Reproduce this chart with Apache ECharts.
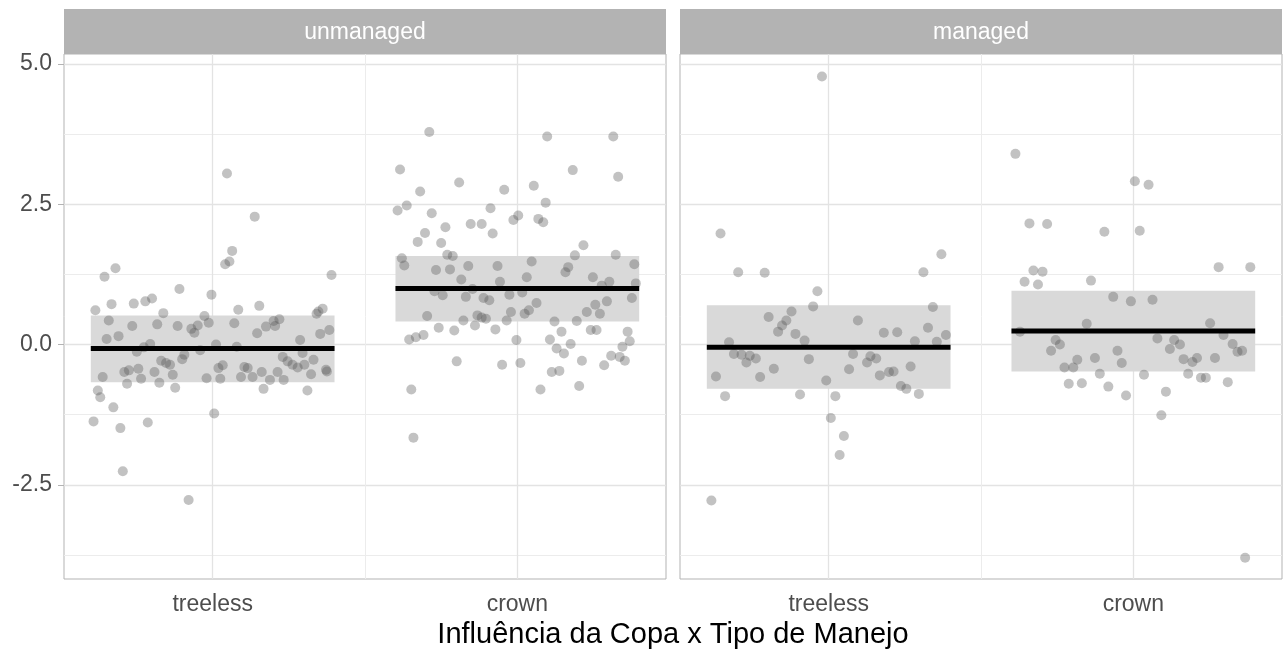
<!DOCTYPE html>
<html>
<head>
<meta charset="utf-8">
<title>Influência da Copa x Tipo de Manejo</title>
<script src="https://cdn.jsdelivr.net/npm/echarts@6/dist/echarts.min.js"></script>
<style>
  html, body { margin: 0; padding: 0; background: #ffffff; }
  #chart { width: 1288px; height: 652px; }
</style>
</head>
<body>
<div id="chart"></div>
<script>
// ---- data -------------------------------------------------------------
const CATEGORIES = ['treeless', 'crown'];          // x positions 1 and 2
const PANELS = ['unmanaged', 'managed'];
const Y_TICKS = [-2.5, 0, 2.5, 5.0];
const Y_MINOR = [-3.75, -1.25, 1.25, 3.75];
const X_AXIS_TITLE = 'Influência da Copa x Tipo de Manejo';

// observations: [horizontal jitter, value]
const unmanagedTreeless = [
  [0.047, 3.05], [0.138, 2.28], [0.064, 1.67], [0.055, 1.48], [0.041, 1.43], [-0.319, 1.36],
  [-0.355, 1.21], [0.390, 1.24], [-0.109, 0.99], [-0.004, 0.89], [-0.199, 0.82], [-0.221, 0.77],
  [-0.259, 0.73], [-0.332, 0.72], [0.153, 0.69], [0.084, 0.62], [-0.385, 0.61], [0.361, 0.64],
  [0.347, 0.59], [0.341, 0.55], [-0.162, 0.56], [-0.027, 0.51], [-0.341, 0.43], [-0.182, 0.36],
  [-0.264, 0.33], [-0.115, 0.33], [-0.070, 0.28], [-0.049, 0.34], [-0.013, 0.39], [-0.060, 0.21],
  [0.071, 0.38], [0.146, 0.20], [0.175, 0.32], [0.200, 0.42], [0.219, 0.45], [0.205, 0.33],
  [-0.348, 0.10], [-0.309, 0.15], [0.353, 0.19], [0.383, 0.26], [0.287, 0.08], [-0.205, 0.01],
  [-0.226, -0.05], [-0.249, -0.13], [0.011, 0.00], [0.079, -0.04], [-0.041, -0.10], [0.295, -0.15],
  [-0.093, -0.18], [-0.100, -0.26], [-0.169, -0.29], [-0.153, -0.33], [-0.140, -0.36], [0.230, -0.22],
  [0.246, -0.30], [0.262, -0.36], [0.279, -0.41], [0.301, -0.36], [0.331, -0.27], [0.372, -0.45],
  [0.375, -0.48], [0.323, -0.53], [-0.244, -0.43], [-0.275, -0.46], [-0.290, -0.49], [-0.191, -0.49],
  [-0.131, -0.54], [0.019, -0.42], [0.033, -0.37], [0.104, -0.40], [0.115, -0.42], [0.161, -0.49],
  [0.213, -0.49], [-0.361, -0.58], [-0.235, -0.61], [-0.175, -0.68], [-0.281, -0.70], [-0.123, -0.77],
  [-0.020, -0.60], [0.025, -0.61], [0.093, -0.58], [0.131, -0.58], [0.188, -0.63], [0.233, -0.63],
  [0.167, -0.79], [0.311, -0.82], [-0.377, -0.82], [-0.369, -0.94], [-0.326, -1.12], [-0.391, -1.37],
  [-0.303, -1.49], [-0.213, -1.39], [0.005, -1.23], [-0.295, -2.26], [-0.079, -2.77]
];
const unmanagedCrown = [
  [-0.289, 3.79], [0.098, 3.71], [0.315, 3.71], [-0.385, 3.12], [0.182, 3.11], [0.331, 2.99],
  [-0.191, 2.89], [0.054, 2.83], [-0.319, 2.73], [-0.043, 2.76], [0.093, 2.53], [-0.363, 2.48],
  [-0.393, 2.39], [-0.088, 2.43], [-0.281, 2.34], [0.003, 2.30], [-0.013, 2.22], [0.069, 2.24],
  [0.085, 2.18], [-0.153, 2.15], [-0.117, 2.15], [-0.236, 2.09], [-0.303, 1.99], [-0.081, 1.98],
  [-0.327, 1.83], [-0.250, 1.81], [0.217, 1.77], [-0.230, 1.60], [-0.212, 1.58], [0.189, 1.59],
  [0.323, 1.60], [-0.379, 1.54], [-0.371, 1.41], [-0.267, 1.33], [-0.221, 1.34], [-0.161, 1.40],
  [-0.065, 1.40], [0.047, 1.48], [0.167, 1.38], [0.158, 1.29], [0.384, 1.43], [0.031, 1.20],
  [-0.184, 1.16], [-0.057, 1.12], [0.248, 1.20], [0.302, 1.12], [0.277, 1.05], [0.389, 1.09],
  [-0.147, 0.99], [-0.272, 0.95], [-0.245, 0.88], [-0.169, 0.85], [-0.111, 0.83], [-0.092, 0.79],
  [-0.026, 0.89], [0.016, 0.93], [0.063, 0.74], [0.038, 0.61], [0.024, 0.55], [-0.021, 0.58],
  [0.256, 0.71], [0.294, 0.77], [0.376, 0.83], [0.228, 0.58], [0.271, 0.55], [-0.296, 0.51],
  [-0.131, 0.52], [-0.117, 0.48], [-0.103, 0.46], [-0.177, 0.43], [-0.035, 0.43], [-0.139, 0.34],
  [-0.258, 0.30], [-0.207, 0.25], [-0.072, 0.27], [0.122, 0.41], [0.195, 0.42], [0.145, 0.23],
  [0.241, 0.26], [0.260, 0.26], [0.362, 0.23], [0.369, 0.06], [0.345, -0.04], [-0.355, 0.09],
  [-0.333, 0.13], [-0.308, 0.17], [-0.003, 0.08], [0.107, 0.09], [0.129, -0.07], [0.153, -0.16],
  [0.175, 0.01], [0.212, -0.29], [0.285, -0.37], [0.308, -0.20], [0.336, -0.22], [0.353, -0.29],
  [-0.199, -0.30], [-0.050, -0.36], [0.010, -0.33], [0.113, -0.49], [0.138, -0.47], [0.203, -0.74],
  [0.076, -0.80], [-0.348, -0.80], [-0.341, -1.66]
];
const managedTreeless = [
  [-0.022, 4.78], [-0.355, 1.98], [0.370, 1.61], [-0.297, 1.29], [-0.210, 1.28], [0.311, 1.29],
  [-0.037, 0.95], [-0.051, 0.68], [0.342, 0.67], [-0.122, 0.59], [-0.197, 0.49], [-0.139, 0.43],
  [0.096, 0.43], [-0.153, 0.34], [-0.166, 0.23], [-0.109, 0.19], [-0.079, 0.07], [0.181, 0.21],
  [0.225, 0.22], [0.326, 0.30], [0.385, 0.17], [0.355, 0.05], [0.283, 0.06], [-0.327, 0.04],
  [-0.311, -0.17], [-0.286, -0.18], [-0.259, -0.20], [-0.239, -0.25], [-0.270, -0.32], [-0.065, -0.26],
  [0.080, -0.17], [0.137, -0.21], [0.156, -0.25], [0.126, -0.32], [-0.180, -0.43], [0.067, -0.44],
  [0.269, -0.39], [-0.370, -0.57], [-0.225, -0.58], [-0.008, -0.64], [0.168, -0.55], [0.198, -0.49],
  [0.213, -0.48], [0.237, -0.74], [0.255, -0.79], [0.296, -0.88], [-0.340, -0.92], [-0.094, -0.89],
  [0.022, -0.92], [0.007, -1.31], [0.050, -1.63], [0.036, -1.97], [-0.385, -2.78]
];
const managedCrown = [
  [-0.387, 3.40], [0.005, 2.91], [0.050, 2.85], [-0.341, 2.16], [-0.283, 2.15], [0.021, 2.03],
  [-0.095, 2.01], [-0.328, 1.32], [-0.298, 1.30], [0.280, 1.38], [0.384, 1.38], [-0.357, 1.12],
  [-0.313, 1.07], [-0.139, 1.14], [-0.066, 0.85], [-0.008, 0.77], [0.063, 0.80], [-0.153, 0.37],
  [0.252, 0.38], [-0.372, 0.23], [0.296, 0.17], [0.079, 0.11], [-0.255, 0.08], [0.134, 0.08],
  [-0.241, 0.00], [0.153, 0.00], [0.326, 0.01], [-0.270, -0.11], [-0.052, -0.11], [0.120, -0.08],
  [0.342, -0.13], [0.357, -0.11], [-0.184, -0.27], [-0.126, -0.24], [-0.038, -0.33], [0.165, -0.26],
  [0.194, -0.31], [0.209, -0.24], [0.268, -0.24], [-0.226, -0.41], [-0.197, -0.41], [-0.110, -0.52],
  [0.035, -0.54], [0.180, -0.52], [0.222, -0.59], [0.238, -0.59], [-0.212, -0.70], [-0.169, -0.69],
  [-0.082, -0.75], [0.310, -0.67], [0.107, -0.84], [-0.024, -0.91], [0.092, -1.26], [0.367, -3.80]
];

// summary per category: [category position, lower, mean, upper]
const unmanagedSummary = [[1, -0.67, -0.07, 0.52], [2, 0.41, 1.00, 1.58]];
const managedSummary   = [[1, -0.79, -0.05, 0.70], [2, -0.48, 0.24, 0.96]];

// ---- layout / style ---------------------------------------------------
const FONT = '"Liberation Sans", Arial, Helvetica, sans-serif';
const PANEL_TOP = 54, PANEL_H = 525, PANEL_W = 602;
const PANEL_LEFTS = [64, 680];
const STRIP_TOP = 9, STRIP_H = 45;
const X_MIN = 0.512, X_MAX = 2.488;
const Y_MIN = -4.18, Y_MAX = 5.18;
const BAR_HALF = 0.4;
const GRID_COLOR = '#e3e3e3';
const GRID_MINOR = '#ececec';
const FRAME_COLOR = '#b3b3b3';

function place(group) {
  // group: [[jitter, value], ...] for category index c
  return (c) => group.map(p => [c + p[0], p[1]]);
}

const panelPoints = [
  place(unmanagedTreeless)(1).concat(place(unmanagedCrown)(2)),
  place(managedTreeless)(1).concat(place(managedCrown)(2))
];
const panelSummary = [unmanagedSummary, managedSummary];

const chart = echarts.init(document.getElementById('chart'), null, { renderer: 'canvas' });

const grids = PANEL_LEFTS.map(l => ({
  left: l, top: PANEL_TOP, width: PANEL_W, height: PANEL_H,
  show: true, borderColor: FRAME_COLOR, borderWidth: 1, backgroundColor: '#ffffff',
  containLabel: false
}));

const xAxes = PANEL_LEFTS.map((l, i) => ({
  type: 'value', gridIndex: i, min: X_MIN, max: X_MAX,
  axisLine: { show: false },
  splitLine: { show: false },
  axisTick: { show: true, customValues: [1, 2], length: 6, lineStyle: { color: FRAME_COLOR, width: 1 } },
  axisLabel: {
    show: true, customValues: [1, 2], margin: 14,
    formatter: v => CATEGORIES[Math.round(v) - 1],
    fontFamily: FONT, fontSize: 23, color: '#4d4d4d'
  }
}));

const yAxes = PANEL_LEFTS.map((l, i) => ({
  type: 'value', gridIndex: i, min: Y_MIN, max: Y_MAX,
  axisLine: { show: false },
  splitLine: { show: false },
  axisTick: i === 0
    ? { show: true, customValues: Y_TICKS, length: 6, lineStyle: { color: FRAME_COLOR, width: 1 } }
    : { show: false },
  axisLabel: i === 0
    ? { show: true, customValues: Y_TICKS, margin: 12, formatter: v => v.toFixed(1),
        fontFamily: FONT, fontSize: 23, color: '#4d4d4d' }
    : { show: false }
}));

const series = [];
for (let i = 0; i < 2; i++) {
  // background grid lines, kept beneath every mark
  series.push({
    type: 'scatter', xAxisIndex: i, yAxisIndex: i, data: [], z: 1, silent: true,
    markLine: {
      silent: true, symbol: 'none', animation: false, z: 1,
      label: { show: false },
      data: [
        ...Y_MINOR.map(v => ({ yAxis: v, lineStyle: { color: GRID_MINOR, width: 1, type: 'solid' } })),
        ...Y_TICKS.map(v => ({ yAxis: v, lineStyle: { color: GRID_COLOR, width: 1.3, type: 'solid' } })),
        { xAxis: 1.5, lineStyle: { color: GRID_MINOR, width: 1, type: 'solid' } },
        { xAxis: 1, lineStyle: { color: GRID_COLOR, width: 1.3, type: 'solid' } },
        { xAxis: 2, lineStyle: { color: GRID_COLOR, width: 1.3, type: 'solid' } }
      ]
    }
  });
  // interval band
  series.push({
    type: 'custom', xAxisIndex: i, yAxisIndex: i, z: 2, silent: true,
    data: panelSummary[i],
    encode: { x: 0, y: [1, 2, 3] },
    renderItem: (params, api) => {
      const c = api.value(0), lo = api.value(1), hi = api.value(3);
      const a = api.coord([c - BAR_HALF, hi]);
      const b = api.coord([c + BAR_HALF, lo]);
      return { type: 'rect', shape: { x: a[0], y: a[1], width: b[0] - a[0], height: b[1] - a[1] },
               style: { fill: '#d9d9d9' } };
    }
  });
  // observations
  series.push({
    type: 'scatter', xAxisIndex: i, yAxisIndex: i, z: 3, silent: true,
    data: panelPoints[i], symbol: 'circle', symbolSize: 10,
    itemStyle: { color: 'rgba(85,85,85,0.45)' }
  });
  // mean line
  series.push({
    type: 'custom', xAxisIndex: i, yAxisIndex: i, z: 4, silent: true,
    data: panelSummary[i],
    encode: { x: 0, y: 2 },
    renderItem: (params, api) => {
      const c = api.value(0), m = api.value(2);
      const a = api.coord([c - BAR_HALF, m]);
      const b = api.coord([c + BAR_HALF, m]);
      return { type: 'line', shape: { x1: a[0], y1: a[1], x2: b[0], y2: b[1] },
               style: { stroke: '#000000', lineWidth: 5 } };
    }
  });
}

// facet strips and axis title
const graphic = [];
PANEL_LEFTS.forEach((l, i) => {
  graphic.push({ type: 'rect', left: l, top: STRIP_TOP, shape: { width: PANEL_W, height: STRIP_H },
                 style: { fill: '#b3b3b3' }, silent: true });
  graphic.push({ type: 'text', x: l + PANEL_W / 2, y: STRIP_TOP + STRIP_H / 2 + 1, silent: true,
                 style: { text: PANELS[i], fill: '#ffffff', font: '23px ' + FONT,
                          align: 'center', verticalAlign: 'middle' } });
});
graphic.push({ type: 'text', x: (PANEL_LEFTS[0] + PANEL_LEFTS[1] + PANEL_W) / 2, y: 635, silent: true,
               style: { text: X_AXIS_TITLE, fill: '#000000', font: '29px ' + FONT,
                        align: 'center', verticalAlign: 'middle' } });

chart.setOption({
  animation: false,
  backgroundColor: '#ffffff',
  grid: grids,
  xAxis: xAxes,
  yAxis: yAxes,
  series: series,
  graphic: graphic
});
</script>
</body>
</html>
